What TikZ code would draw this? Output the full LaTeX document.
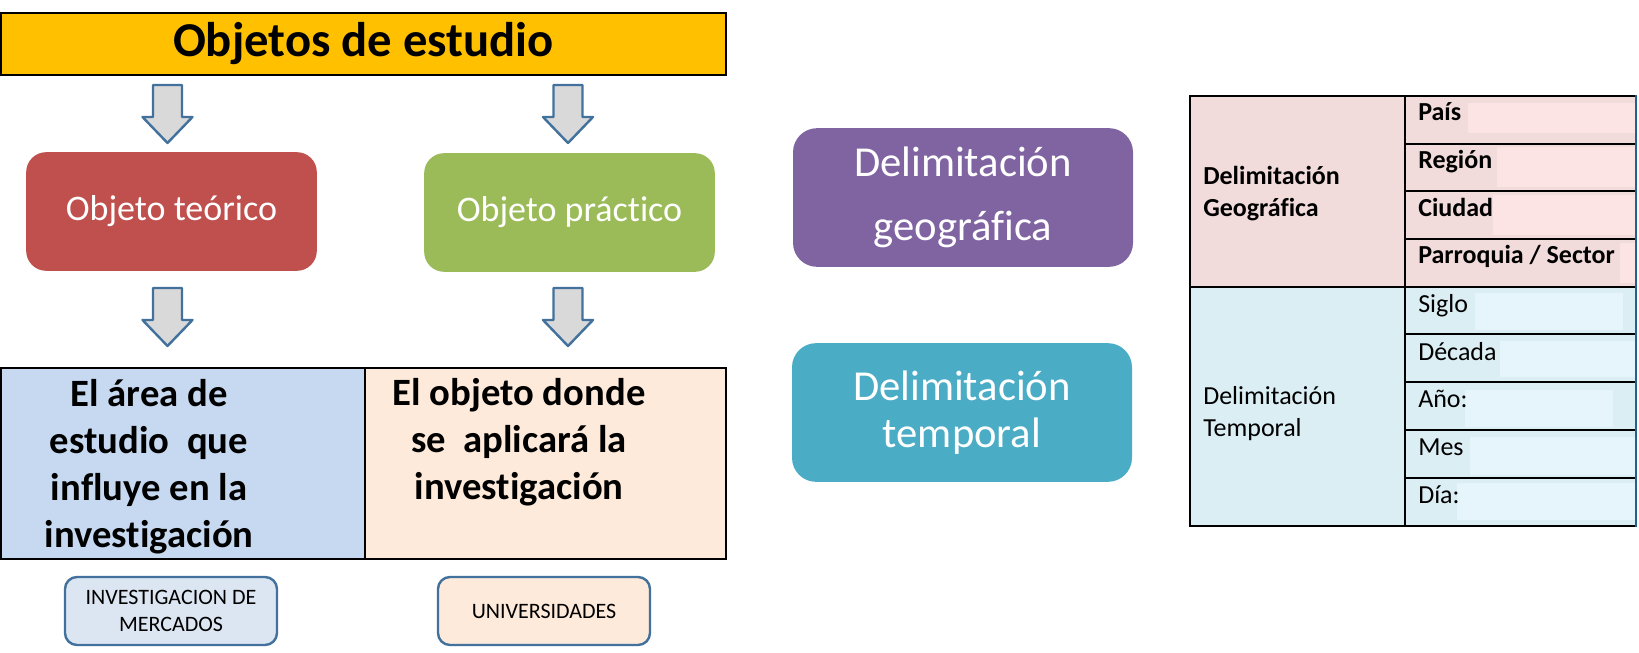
\documentclass[tikz,border=0pt]{standalone}
\usepackage{fontspec}
\setmainfont{Carlito}[RawFeature={-liga;-clig;-dlig}]
\definecolor{titlefill}{HTML}{FFC000}
\definecolor{redbox}{HTML}{C0504D}
\definecolor{greenbox}{HTML}{9BBB59}
\definecolor{purplebox}{HTML}{8064A2}
\definecolor{tealbox}{HTML}{4BACC6}
\definecolor{arrowfill}{HTML}{D9D9D9}
\definecolor{bluedge}{HTML}{41719C}
\definecolor{cellblue}{HTML}{C6D9F1}
\definecolor{cellpeach}{HTML}{FDEADA}
\definecolor{smallblue}{HTML}{DCE6F2}
\definecolor{geofill}{HTML}{F2DCDB}
\definecolor{geohl}{HTML}{FDE4E4}
\definecolor{tmpfill}{HTML}{DBEEF4}
\definecolor{tmphl}{HTML}{E6F5FC}
\definecolor{tableedge}{HTML}{1F6391}
\begin{document}
\begin{tikzpicture}[x=0.75pt,y=-0.75pt,
  colbox/.style={fill=#1, draw=none, rounded corners=15pt, text=white, align=center, inner sep=0pt,
    minimum width=218pt, minimum height=89pt, font=\fontsize{27}{32}\selectfont},
  delbox/.style={fill=#1, draw=none, rounded corners=18pt, text=white, align=center, inner sep=0pt,
    minimum width=255pt, minimum height=104pt},
  cellbox/.style={fill=#1, draw=black, line width=1.5pt, inner sep=0pt, minimum height=143pt},
  bigtext/.style={align=center, inner sep=0pt, font=\bfseries\fontsize{29}{35.25}\selectfont},
  smallbox/.style={fill=#1, draw=bluedge, line width=1.8pt, rounded corners=9pt, align=center, inner sep=0pt,
    minimum width=159pt, minimum height=51pt, font=\fontsize{16.5}{20.25}\selectfont},
  tablabel/.style={anchor=base west, inner sep=0pt, font=\fontsize{19.5}{24}\selectfont},
  tabhead/.style={anchor=west, align=left, inner sep=0pt, font=\fontsize{19.5}{24}\selectfont},
  gridline/.style={draw=black, line width=1.5pt},
  blockarrow/.pic={\draw[fill=arrowfill, draw=bluedge, line width=1.8pt, line join=round]
     (-14.5,0) -- (-14.5,32) -- (-25,32) -- (0,58) -- (25,32) -- (14.5,32) -- (14.5,0) -- cycle;}
]
\useasboundingbox (0,0) rectangle (1639,653);

% title
\node[fill=titlefill, draw=black, line width=1.5pt, inner sep=0pt, minimum width=544pt, minimum height=46.5pt,
  font=\bfseries\fontsize{36.5}{40}\selectfont] (title) at (363.5,44) {Objetos de estudio};

% arrows
\pic at (167.5,85) {blockarrow};
\pic at (568,85) {blockarrow};
\pic at (167.5,288) {blockarrow};
\pic at (568,288) {blockarrow};

% object boxes
\node[colbox=redbox] (teorico) at (171.5,211.5) {Objeto teórico};
\node[colbox=greenbox] (practico) at (569.5,212.5) {Objeto práctico};

% bottom cells
\node[cellbox=cellblue, minimum width=273pt] (area) at (183,463.5) {};
\node[cellbox=cellpeach, minimum width=271pt] (objeto) at (545.5,463.5) {};
\node[bigtext] (areatext) at (149,466.5) {El área de\\estudio\ \ que\\influye en la\\investigación};
\node[bigtext] (objtext) at (519,442.5) {El objeto donde\\se\ \ aplicará la\\investigación};

% small boxes
\node[smallbox=smallblue] (mercados) at (171,611) {INVESTIGACION DE\\MERCADOS};
\node[smallbox=cellpeach] (univ) at (544,611) {UNIVERSIDADES};

% delimitation boxes
\node[delbox=purplebox, font=\fontsize{32}{48}\selectfont] (geo) at (963,197.5) {Delimitación\\geográfica};
\node[delbox=tealbox, font=\fontsize{32}{35.25}\selectfont] (temp) at (962,412.5) {Delimitación\\temporal};

% table fills
\fill[geofill] (1190,96) rectangle (1636,287);
\fill[tmpfill] (1190,287) rectangle (1636,526);
\fill[geohl] (1468,103) rectangle (1635,133);
\fill[geohl] (1497,147) rectangle (1636,187);
\fill[geohl] (1493,195) rectangle (1636,235);
\fill[geohl] (1620,243) rectangle (1636,283);
\fill[tmphl] (1475,293) rectangle (1623,330);
\fill[tmphl] (1500,341) rectangle (1636,377);
\fill[tmphl] (1465,390) rectangle (1613,427);
\fill[tmphl] (1470,437) rectangle (1636,475);
\fill[tmphl] (1457,483) rectangle (1636,520);

% table grid
\draw[gridline] (1636,96) -- (1190,96) -- (1190,526) -- (1636,526);
\draw[gridline] (1190,287) -- (1636,287);
\draw[gridline] (1405,96) -- (1405,526);
\foreach \yy in {144,191,239,334,382,430,478} {\draw[gridline] (1405,\yy) -- (1636,\yy);}
\draw[draw=tableedge, line width=2pt] (1636,95) -- (1636,527);

% table text
\node[tabhead, font=\bfseries\fontsize{19.5}{24}\selectfont] (geohead) at (1203,194) {Delimitación\\Geográfica};
\node[tabhead] (temphead) at (1203,414) {Delimitación\\Temporal};
\node[tablabel, font=\bfseries\fontsize{19.5}{24}\selectfont] (pais) at (1418,120) {País};
\node[tablabel, font=\bfseries\fontsize{19.5}{24}\selectfont] (region) at (1418,168) {Región};
\node[tablabel, font=\bfseries\fontsize{19.5}{24}\selectfont] (ciudad) at (1418,216) {Ciudad};
\node[tablabel, font=\bfseries\fontsize{19.5}{24}\selectfont] (parroquia) at (1418,263) {Parroquia / Sector};
\node[tablabel] (siglo) at (1418,312) {Siglo};
\node[tablabel] (decada) at (1418,360) {Década};
\node[tablabel] (anio) at (1418,407) {Año:};
\node[tablabel] (mes) at (1418,455) {Mes};
\node[tablabel] (dia) at (1418,503) {Día:};
\end{tikzpicture}
\end{document}
